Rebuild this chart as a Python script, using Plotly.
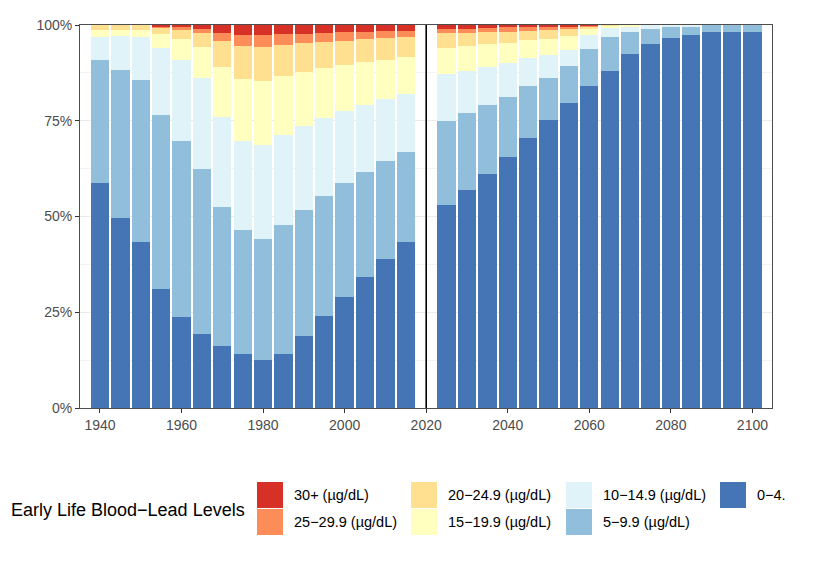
import plotly.graph_objects as go

years = [1940, 1945, 1950, 1955, 1960, 1965, 1970, 1975, 1980, 1985, 1990, 1995, 2000, 2005, 2010, 2015,
         2025, 2030, 2035, 2040, 2045, 2050, 2055, 2060, 2065, 2070, 2075, 2080, 2085, 2090, 2095, 2100]

lvl_0_4 = [58.7, 49.5, 43.4, 31.2, 23.8, 19.2, 16.2, 14.2, 12.6, 14.0, 18.8, 23.9, 29.0, 34.2, 39.0, 43.4,
           53.1, 57.0, 61.2, 65.6, 70.6, 75.1, 79.7, 84.2, 88.1, 92.5, 95.1, 96.6, 97.5, 98.2, 98.2, 98.3]
lvl_5_9 = [32.1, 38.7, 42.2, 45.3, 45.8, 43.1, 36.2, 32.3, 31.6, 33.8, 32.9, 31.5, 29.7, 27.5, 25.5, 23.5,
           21.9, 20.0, 17.9, 15.7, 13.6, 11.1, 9.7, 9.5, 8.8, 5.8, 3.9, 2.8, 2.1, 1.8, 1.8, 1.7]
lvl_10_14 = [6.1, 8.9, 11.3, 17.5, 21.3, 23.9, 23.6, 23.2, 24.5, 23.6, 22.0, 20.4, 18.9, 17.4, 16.2, 15.0,
             12.2, 11.0, 9.9, 8.8, 7.3, 6.0, 4.2, 3.7, 2.4, 1.4, 1.0, 0.6, 0.4, 0.0, 0.0, 0.0]
lvl_15_19 = [1.8, 1.6, 1.8, 3.6, 5.5, 8.0, 13.0, 16.1, 16.7, 15.2, 14.0, 12.9, 12.0, 11.2, 10.2, 9.8,
             6.8, 6.5, 6.0, 5.3, 4.6, 4.2, 3.4, 1.6, 0.5, 0.3, 0.0, 0.0, 0.0, 0.0, 0.0, 0.0]
lvl_20_24 = [1.3, 1.3, 1.3, 1.7, 2.3, 3.6, 6.8, 8.7, 8.9, 8.2, 7.6, 6.9, 6.3, 6.0, 5.6, 5.1,
             3.8, 3.5, 3.1, 2.8, 2.4, 2.2, 1.9, 0.7, 0.2, 0.0, 0.0, 0.0, 0.0, 0.0, 0.0, 0.0]
lvl_25_29 = [0.0, 0.0, 0.0, 0.4, 0.8, 1.1, 2.2, 2.9, 3.1, 2.9, 2.4, 2.3, 2.3, 1.9, 2.0, 1.7,
             1.1, 1.0, 1.1, 1.2, 1.0, 0.9, 0.7, 0.2, 0.0, 0.0, 0.0, 0.0, 0.0, 0.0, 0.0, 0.0]
lvl_30 = [0.0, 0.0, 0.0, 0.3, 0.5, 1.1, 2.0, 2.6, 2.6, 2.3, 2.3, 2.1, 1.8, 1.8, 1.5, 1.5,
          1.1, 1.0, 0.8, 0.6, 0.5, 0.5, 0.4, 0.1, 0.0, 0.0, 0.0, 0.0, 0.0, 0.0, 0.0, 0.0]

level_labels = ["0−4.9 (µg/dL)", "5−9.9 (µg/dL)", "10−14.9 (µg/dL)", "15−19.9 (µg/dL)",
                "20−24.9 (µg/dL)", "25−29.9 (µg/dL)", "30+ (µg/dL)"]
level_values = [lvl_0_4, lvl_5_9, lvl_10_14, lvl_15_19, lvl_20_24, lvl_25_29, lvl_30]
level_colors = ["#4575B4", "#91BFDB", "#E0F3F8", "#FFFFBF", "#FEE090", "#FC8D59", "#D73027"]

legend_title = "Early Life Blood−Lead Levels"
# legend display text (last entry is clipped in the reference)
legend_texts = {"30+ (µg/dL)": "30+ (µg/dL)", "25−29.9 (µg/dL)": "25−29.9 (µg/dL)",
                "20−24.9 (µg/dL)": "20−24.9 (µg/dL)", "15−19.9 (µg/dL)": "15−19.9 (µg/dL)",
                "10−14.9 (µg/dL)": "10−14.9 (µg/dL)", "5−9.9 (µg/dL)": "5−9.9 (µg/dL)",
                "0−4.9 (µg/dL)": "0−4."}
legend_order = ["30+ (µg/dL)", "25−29.9 (µg/dL)", "20−24.9 (µg/dL)", "15−19.9 (µg/dL)",
                "10−14.9 (µg/dL)", "5−9.9 (µg/dL)", "0−4.9 (µg/dL)"]

FONT = "Liberation Sans, Arial, sans-serif"
OFF = 8  # page body margin
W, H = 822, 564
L, T = 80 - OFF, 25 - OFF
PW, PH = 692, 383
R, B = W - L - PW, H - T - PH

fig = go.Figure()
for lab, vals, col in zip(level_labels, level_values, level_colors):
    fig.add_trace(go.Bar(x=years, y=[v / 100 for v in vals], width=4.5, name=lab,
                         marker=dict(color=col, line=dict(width=0)), showlegend=False))

fig.add_vline(x=2020, line=dict(color="black", width=1.6), layer="above")


def px2paper(px, py):
    # page pixel coords -> paper coords
    return (px - OFF - L) / PW, (H - B - (py - OFF)) / PH


sq_x = [257, 411, 566, 720]
sq_y = [482, 509]
sq = 26
text_dx = 35
col_of = {lab: level_colors[level_labels.index(lab)] for lab in level_labels}
for i, lab in enumerate(legend_order):
    c, r = divmod(i, 2)
    x0, y0 = sq_x[c], sq_y[r]
    a, b = px2paper(x0, y0)
    a2, b2 = px2paper(x0 + sq, y0 + sq)
    fig.add_shape(type="rect", xref="paper", yref="paper", x0=a, x1=a2, y0=b2, y1=b,
                  fillcolor=col_of[lab], line=dict(width=0), layer="above")
    tx, ty = px2paper(x0 + text_dx, y0 + sq / 2)
    fig.add_annotation(xref="paper", yref="paper", x=tx, y=ty, text=legend_texts[lab],
                       showarrow=False, xanchor="left", yanchor="middle",
                       font=dict(family=FONT, size=14.5, color="black"))
tx, ty = px2paper(9, 510)
fig.add_annotation(xref="paper", yref="paper", x=tx, y=ty, text=legend_title,
                   showarrow=False, xanchor="left", yanchor="middle",
                   font=dict(family=FONT, size=18, color="black"))

fig.update_layout(
    width=W, height=H, barmode="stack", bargap=0,
    margin=dict(l=L, r=R, t=T, b=B, autoexpand=False),
    plot_bgcolor="white", paper_bgcolor="white",
    font=dict(family=FONT, size=14, color="#4D4D4D"),
    xaxis=dict(range=[1935.1, 2104.8], tickvals=[1940, 1960, 1980, 2000, 2020, 2040, 2060, 2080, 2100],
               ticks="outside", ticklen=4, tickcolor="#333333", showgrid=False, zeroline=False,
               showline=True, linecolor="#4D4D4D", linewidth=1, mirror=True,
               tickfont=dict(family=FONT, size=14, color="#4D4D4D")),
    yaxis=dict(range=[0, 1], tickvals=[0, 0.25, 0.5, 0.75, 1], ticktext=["0%", "25%", "50%", "75%", "100%"],
               ticks="outside", ticklen=4, tickcolor="#333333", showgrid=True, gridcolor="#EBEBEB",
               gridwidth=1, zeroline=False, showline=True, linecolor="#4D4D4D", linewidth=1, mirror=True,
               minor=dict(dtick=0.125, tick0=0, showgrid=True, gridcolor="#F3F3F3", gridwidth=0.6),
               tickfont=dict(family=FONT, size=14, color="#4D4D4D")),
)

fig.write_html("out.html")
